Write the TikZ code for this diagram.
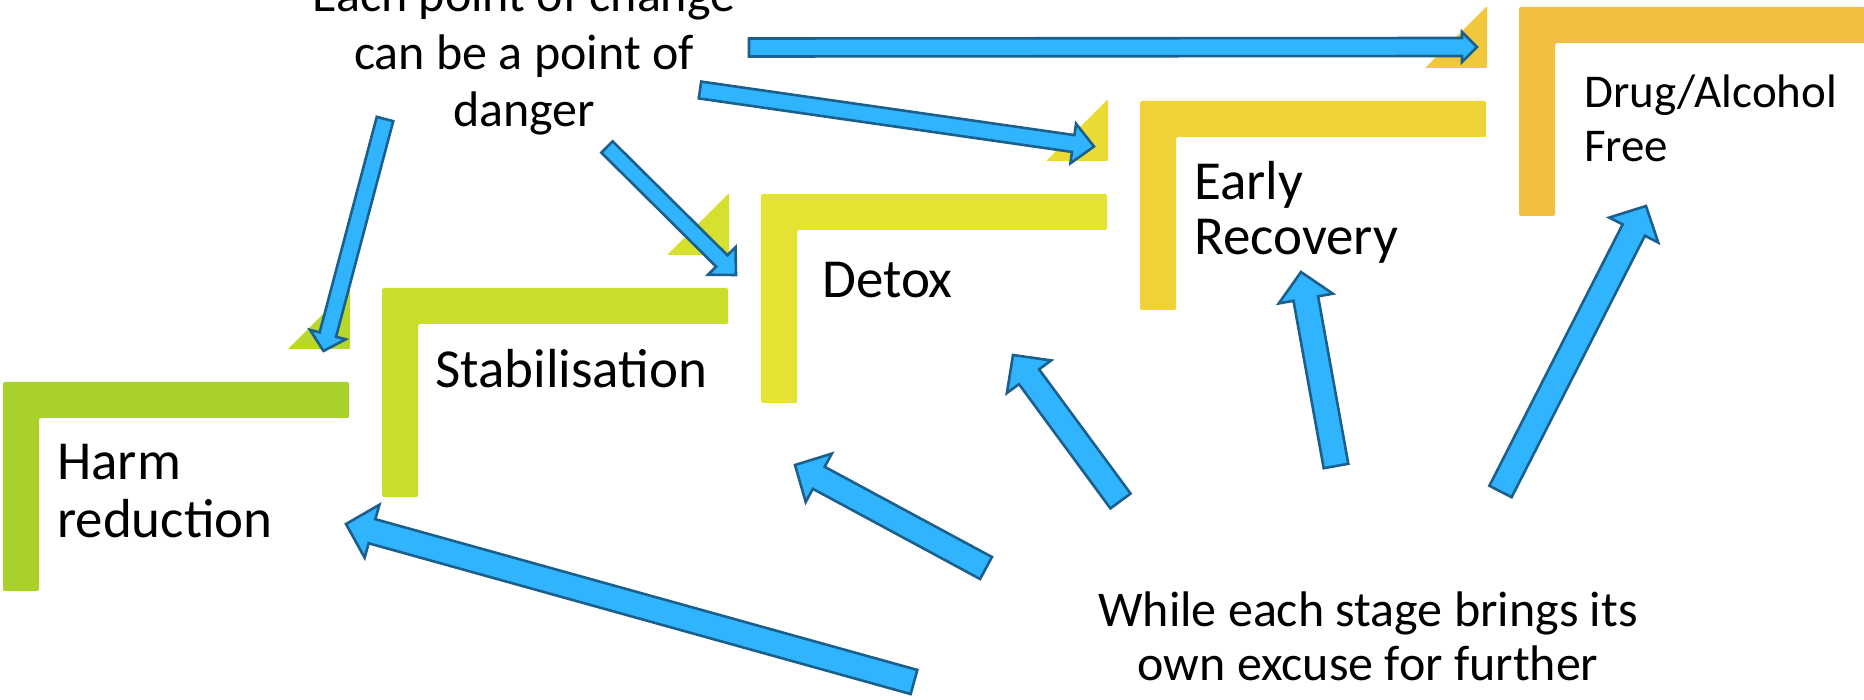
\documentclass[tikz,border=0pt]{standalone}
\usepackage{fontspec}
\setmainfont{Carlito}
\usepackage{tikz}
\usetikzlibrary{calc}
\definecolor{harmgreen}{HTML}{A9D12B}
\definecolor{stabgreen}{HTML}{C9DD2B}
\definecolor{detoxyellow}{HTML}{E4E331}
\definecolor{earlyyellow}{HTML}{EFD237}
\definecolor{freeorange}{HTML}{F3BF40}
\definecolor{arrowfill}{HTML}{31B4FE}
\definecolor{arrowedge}{HTML}{1B5F8C}
\tikzset{%
  stagetext/.style = {anchor=base west, align=left, inner sep=0pt,
        font=\fontsize{55}{58}\selectfont},
  notetext/.style = {anchor=base, align=center, inner sep=0pt,
        font=\fontsize{50}{56}\selectfont},
  bluearrow/.style = {fill=arrowfill, draw=arrowedge, line width=2.6pt,
        line join=miter},
  pics/stepbar/.style = {code={\fill[rounded corners=1.5pt] (0,0) -- (346,0)
        -- (346,36) -- (36,36) -- (36,209) -- (0,209) -- cycle;}},
  pics/stepnotch/.style = {code={\fill[rounded corners=1pt] (285,-33)
        -- (347,-33) -- (347,-95) -- cycle;}}
}
% tail, tip, shaft half width, head half width, head length
\newcommand{\blockarrow}[5]{%
  \path ($(#2)!#5!(#1)$) coordinate (hb);
  \draw[bluearrow] ($(#1)!#3!90:(#2)$) -- ($(hb)!#3!-90:(#1)$)
    -- ($(hb)!#4!-90:(#1)$) -- (#2) -- ($(hb)!#4!90:(#1)$)
    -- ($(hb)!#3!90:(#1)$) -- ($(#1)!#3!-90:(#2)$) -- cycle;}

\begin{document}
\begin{tikzpicture}[x=1pt,y=-1pt]
  \useasboundingbox (0,0) rectangle (1864,700);
  \clip (0,0) rectangle (1864,700);
  % the five steps
  \pic[harmgreen!50!stabgreen] at (3,382) {stepnotch};
  \pic[stabgreen!50!detoxyellow] at (382,288) {stepnotch};
  \pic[detoxyellow!50!earlyyellow] at (761,194) {stepnotch};
  \pic[earlyyellow!50!freeorange] at (1140,101) {stepnotch};
  \pic[harmgreen] at (3,382) {stepbar};
  \pic[stabgreen] at (382,288) {stepbar};
  \pic[detoxyellow] at (761,194) {stepbar};
  \pic[earlyyellow] at (1140,101) {stepbar};
  \pic[freeorange] at (1519,7) {stepbar};

  % last line baselines
  \node[stagetext] (harm) at (57,537) {Harm\\reduction};
  \node[stagetext] (stab) at (435,388) {Stabilisation};
  \node[stagetext] (detox) at (822,298) {Detox};
  \node[stagetext, font=\fontsize{55}{55}\selectfont] (early) at (1194,255) {Early\\Recovery};
  \node[stagetext, font=\fontsize{47}{54}\selectfont] (free) at (1584,162) {Drug/Alcohol\\Free};
  \node[notetext, font=\fontsize{50}{57.5}\selectfont] (danger) at (524,127) {Each point of change\\can be a point of\\danger};
  \node[notetext, font=\fontsize{50}{54}\selectfont] (excuse) at (1368,680) {While each stage brings its\\own excuse for further};

  % arrows
  \coordinate (t1) at (749,47.5);  \coordinate (h1) at (1477,47);
  \coordinate (t2) at (700,90);    \coordinate (h2) at (1094,146.5);
  \coordinate (t3) at (607,147);   \coordinate (h3) at (736,275);
  \coordinate (t4) at (385,119);   \coordinate (h4) at (323.5,351);
  \coordinate (t5) at (914,682);   \coordinate (h5) at (346,524);
  \coordinate (t6) at (986,568);   \coordinate (h6) at (795,465);
  \coordinate (t7) at (1120.5,501);\coordinate (h7) at (1013,355);
  \coordinate (t8) at (1336,466);  \coordinate (h8) at (1301,272);
  \coordinate (t9) at (1500.5,491.5); \coordinate (h9) at (1646,206);
  \blockarrow{t1}{h1}{9pt}{15pt}{15pt}
  \blockarrow{t2}{h2}{8.5pt}{20pt}{21pt}
  \blockarrow{t3}{h3}{8pt}{19.5pt}{20pt}
  \blockarrow{t4}{h4}{8.5pt}{18.5pt}{17pt}
  \blockarrow{t5}{h5}{12.5pt}{27.5pt}{27pt}
  \blockarrow{t6}{h6}{12.5pt}{27.5pt}{27pt}
  \blockarrow{t7}{h7}{12.5pt}{27.5pt}{27pt}
  \blockarrow{t8}{h8}{12.5pt}{27.5pt}{27pt}
  \blockarrow{t9}{h9}{12.5pt}{27.5pt}{27pt}
\end{tikzpicture}
\end{document}
